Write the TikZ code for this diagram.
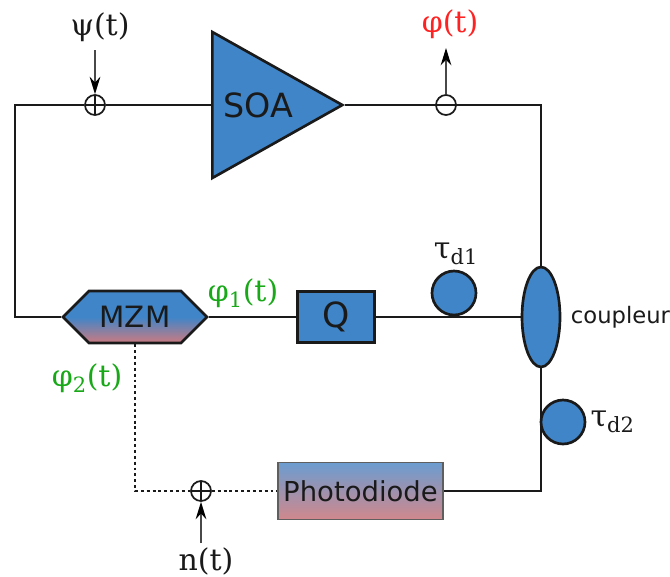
\documentclass[tikz,border=0pt]{standalone}
\usepackage{fontspec}
\setmainfont{DejaVu Sans}
\newfontfamily\symbfont{DejaVu Serif}
\usepackage{tikz}
\usetikzlibrary{arrows.meta,positioning,shapes.geometric,shapes.symbols}
\definecolor{partblue}{HTML}{4085C8}
\definecolor{partrose}{HTML}{CC7A80}
\definecolor{pdblue}{HTML}{6C9CD0}
\definecolor{pdrose}{HTML}{D0888C}
\definecolor{labelgreen}{HTML}{18A818}
\definecolor{labelred}{HTML}{FF2222}
\definecolor{inkdark}{HTML}{1A1A1A}

\begin{document}
\begin{tikzpicture}[
    x = 0.75pt,
    y = -0.75pt,
    every node/.style = {text=inkdark, inner sep=0pt},
    wire/.style = {
        draw=inkdark,
        line width=2pt,
        line join=miter
    },
    dotwire/.style = {
        draw=inkdark,
        line width=2.2pt,
        dash pattern=on 2.2pt off 2.2pt
    },
    arrow/.style = {
        -{Stealth[length=13pt,width=8pt,black]},
        draw=inkdark!80,
        line width=0.9pt
    },
    part/.style = {
        draw=inkdark,
        line width=2pt,
        fill=partblue
    },
    delay/.style = {
        part,
        circle,
        minimum size=33pt
    },
    sumnode/.style = {
        circle,
        draw=inkdark,
        line width=1.3pt,
        minimum size=15pt,
        path picture={
            \draw[line width=1.1pt, inkdark] (path picture bounding box.north) -- (path picture bounding box.south);
            \draw[line width=1.1pt, inkdark] (path picture bounding box.west) -- (path picture bounding box.east);
        }
    },
    tapnode/.style = {
        circle,
        draw=inkdark,
        line width=1.3pt,
        minimum size=15pt
    },
    symb/.style = {font=\symbfont\fontsize{22.5}{26}\selectfont}
]
\useasboundingbox (0,0) rectangle (670,576);

\node[part, isosceles triangle, isosceles triangle apex angle=58.6, isosceles triangle stretches,
    minimum width=109.5pt, minimum height=97.5pt, anchor=lower side] (soa) at (211,105) {};
\node[anchor=west, font=\fontsize{25}{28}\selectfont] (soatext) at (223,105) {SOA};

\node[sumnode] (psisum) at (95,105) {};
\node[tapnode] (tap) at (446,105) {};
\coordinate (topleft) at (15,105);
\coordinate (botleft) at (15,317);

\node[signal, signal to=west and east, signal pointer angle=90,
    draw=inkdark, line width=2pt, minimum width=108pt, minimum height=39pt,
    top color=partblue, bottom color=partrose, middle color=partblue,
    font=\fontsize{22}{26}\selectfont] (mzm) at (135,317) {MZM};
\node[part, rectangle, minimum width=57.5pt, minimum height=38.5pt, right=65.5pt of mzm,
    font=\fontsize{26}{30}\selectfont] (quant) {Q};
\node[part, ellipse, minimum width=28.5pt, minimum height=75pt] (coupler) at (541,317) {};
\node[right=7pt of coupler, font=\fontsize{17}{20}\selectfont] (couplerlabel) {coupleur};

\node[delay] (delayone) at (454,293) {};
\node[delay] (delaytwo) at (563,422) {};

\node[rectangle, draw=inkdark!70, line width=1.2pt, minimum width=124pt, minimum height=42.5pt,
    top color=pdblue, bottom color=pdrose,
    font=\fontsize{20.6}{24}\selectfont] (pd) at (360.5,491) {Photodiode};
\node[sumnode] (nsum) at (201,491) {};

\node[symb] (psilabel) at (100,27) {ψ(t)};
\node[symb, text=labelred] (philabel) at (450,24) {φ(t)};
\node[symb, text=labelgreen] (phione) at (243,293) {φ\textsubscript{1}(t)};
\node[symb, text=labelgreen] (phitwo) at (87,378) {φ\textsubscript{2}(t)};
\node[symb] (tauone) at (456,254) {τ\textsubscript{d1}};
\node[symb, right=3pt of delaytwo] (tautwo) {τ\textsubscript{d2}};
\node[symb] (nlabel) at (206,561) {n(t)};

\coordinate (psitail) at (95,50);
\coordinate (phitip) at (446,48);
\coordinate (ntail) at (201,543);

\draw[wire] (soa.apex) -- (tap.center) -| (coupler.north);
\draw[wire] (soa.lower side) -- (psisum) -- (topleft) -- (botleft) -- (mzm.west);
\draw[wire] (mzm.east) -- (quant);
\draw[wire] (quant) -- (coupler);
\draw[wire] (coupler.south) |- (pd.east);
\draw[dotwire] (mzm.south) |- (nsum.west);
\draw[dotwire] (nsum) -- (pd);

\draw[arrow] (psitail) -- (psisum);
\draw[arrow] (tap) -- (phitip);
\draw[arrow] (ntail) -- (nsum);

\end{tikzpicture}
\end{document}
